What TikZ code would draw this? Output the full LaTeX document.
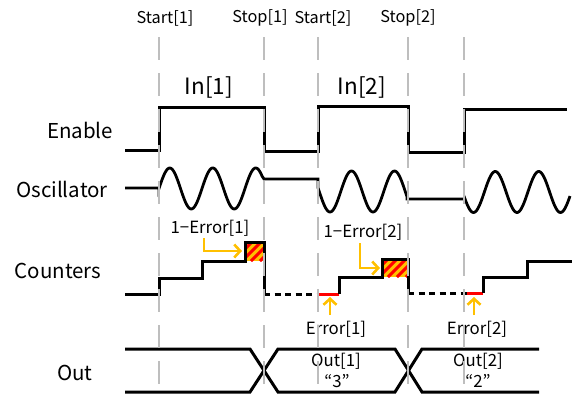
\documentclass[tikz,border=0pt]{standalone}
\usepackage{fontspec}
\setmainfont{Noto Sans CJK JP}
\usetikzlibrary{arrows.meta}
\definecolor{guide}{RGB}{190,190,190}
\definecolor{gold}{RGB}{255,192,0}
\definecolor{hred}{RGB}{255,0,0}
\tikzset{
  sig/.style={line width=3pt, line join=miter},
  guideline/.style={guide, line width=2.5pt, dash pattern=on 23pt off 13pt},
  dotsig/.style={line width=3pt, dash pattern=on 6pt off 4.5pt},
  errseg/.style={hred, line width=3pt},
  callout/.style={gold, line width=2.6pt, -{Straight Barb[length=6pt,width=13pt,line width=2.6pt]}},
  toplab/.style={font=\fontsize{16.3}{18}\selectfont, inner sep=0pt},
  inlab/.style={font=\fontsize{22.5}{24}\selectfont, inner sep=0pt},
  rowlab/.style={font=\fontsize{20.5}{22}\selectfont, inner sep=0pt},
  smalllab/.style={font=\fontsize{16.8}{18}\selectfont, inner sep=0pt},
}
\begin{document}
\begin{tikzpicture}[x=1pt,y=-1pt]
\useasboundingbox (0,0) rectangle (573,397);
\fill[white] (0,0) rectangle (573,397);

% labels
\node[toplab] (st1) at (165,18) {Start[1]};
\node[toplab] (sp1) at (260,18) {Stop[1]};
\node[toplab] (st2) at (323,18) {Start[2]};
\node[toplab] (sp2) at (408,18) {Stop[2]};
\node[inlab] (in1) at (209,87) {In[1]};
\node[inlab] (in2) at (362,87) {In[2]};
\node[rowlab] (len) at (80,130) {Enable};
\node[rowlab] (losc) at (62,189) {Oscillator};
\node[rowlab] (lcnt) at (58,271) {Counters};
\node[rowlab] (lout) at (75,373) {Out};
\node[smalllab] (oe1) at (210,228) {1−Error[1]};
\node[smalllab] (oe2) at (363,232) {1−Error[2]};
\node[smalllab] (e1) at (336,329) {Error[1]};
\node[smalllab] (e2) at (477,329) {Error[2]};
\node[smalllab] (o1) at (336,361) {Out[1]};
\node[smalllab] (v1) at (337,381) {“3”};
\node[smalllab] (o2) at (478,361) {Out[2]};
\node[smalllab] (v2) at (478,381) {“2”};

% Enable
\draw[sig] (125,150) -- (159,150) -- (159,107) -- (264,107) -- (264,151) -- (318,151)
  -- (318,106) -- (408,106) -- (408,152) -- (464,152) -- (464,109) -- (567,109);

% Oscillator
\draw[sig, line width=2.8pt] (125,188) -- (159,188)
  -- plot[domain=159:262, samples=90, smooth] (\x, {188.5 - 20.5*sin(8.3721*(\x-159))})
  -- (264,179) -- (318,179)
  -- plot[domain=318:407, samples=80, smooth] (\x, {191.5 + 20.5*cos(8.3721*(\x-330))})
  -- (407,199) -- (465,199)
  -- plot[domain=465:570, samples=90, smooth] (\x, {192 + 20.5*cos(8.2759*(\x-473.5))});

% Counter boxes
\begin{scope}
  \clip (245,242) rectangle (264,261);
  \fill[gold] (245,242) rectangle (264,261);
  \foreach \k in {-12,-3,6,15} {
    \draw[hred, line width=3pt] (245+\k,261) -- (245+\k+19,242);
  }
\end{scope}
\begin{scope}
  \clip (382,259) rectangle (408,277);
  \fill[gold] (382,259) rectangle (408,277);
  \foreach \k in {-12,-3,6,15,24} {
    \draw[hred, line width=3pt] (382+\k,277) -- (382+\k+18,259);
  }
\end{scope}

% Counters
\draw[sig] (125,294) -- (159,294) -- (159,278) -- (202,278) -- (202,261) -- (245,261)
  -- (245,242) -- (264,242) -- (264,294);
\draw[dotsig] (264,294) -- (319,294);
\draw[errseg] (319,294) -- (339,294);
\draw[sig] (339,294) -- (339,277) -- (382,277) -- (382,259) -- (408,259) -- (408,293);
\draw[dotsig] (408,293) -- (467,293);
\draw[errseg] (467,293) -- (483,293);
\draw[sig] (483,293) -- (483,277) -- (527,277) -- (527,261) -- (572,261);

% Out bus
\draw[sig] (125,349) -- (250,349) -- (278,392) -- (395,392) -- (422,349) -- (539,349);
\draw[sig] (125,392) -- (250,392) -- (278,349) -- (395,349) -- (422,392) -- (539,392);

% callout arrows
\coordinate (a1s) at (204,238);
\coordinate (a1m) at (204,251);
\coordinate (a1e) at (242,251);
\coordinate (a2s) at (360,243);
\coordinate (a2m) at (360,268);
\coordinate (a2e) at (380,268);
\coordinate (a3s) at (330,315);
\coordinate (a3e) at (330,297);
\coordinate (a4s) at (474,315);
\coordinate (a4e) at (474,297);
\draw[callout] (a1s) -- (a1m) -- (a1e);
\draw[callout] (a2s) -- (a2m) -- (a2e);
\draw[callout] (a3s) -- (a3e);
\draw[callout] (a4s) -- (a4e);

% guide lines
\foreach \gx in {159,264,318,408,464} {
  \draw[guideline] (\gx,37) -- (\gx,386);
}
\end{tikzpicture}
\end{document}
